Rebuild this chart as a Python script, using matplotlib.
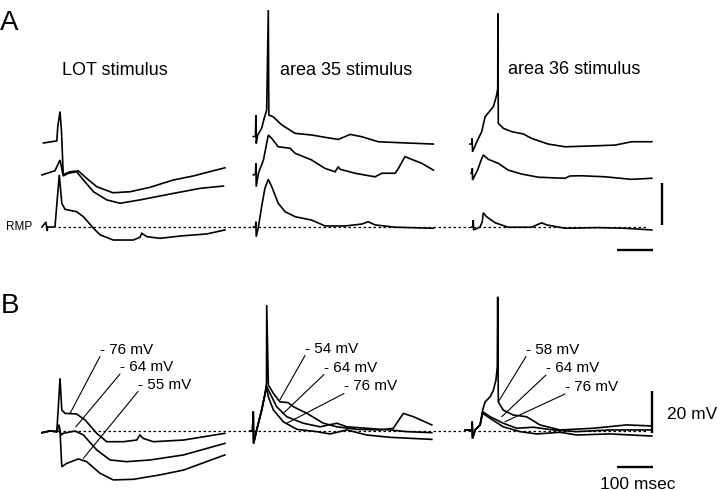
import matplotlib
matplotlib.use('Agg')
import matplotlib.pyplot as plt

plt.rcParams['font.family'] = ['Liberation Sans', 'DejaVu Sans']

# scale of the original figure: 100 ms = 36 px, 20 mV = 42 px
MS_PER_PX = 100 / 36
MV_PER_PX = 20 / 42
SCALE_MS = 100
SCALE_MV = 20

# ---- panel A: (time ms from sweep start, mV relative to RMP) ----
a_lot_top = [(4, 40), (41, 41), (44, 48), (50, 55), (54, 46), (59, 25), (78, 26.3),
             (101, 26.7), (124, 23.2), (152, 19.2), (197, 16.3), (245, 16.8),
             (300, 18.9), (365, 22.4), (420, 24.3), (508, 28.2)]
a_lot_mid = [(0, 24.8), (36, 26.8), (50, 31.9), (59, 24.3), (73, 25.6), (96, 26.3),
             (115, 22.4), (143, 16.8), (180, 12.9), (217, 11.3), (272, 12.9),
             (365, 16.0), (439, 18.4), (504, 19.5)]
a_lot_bot = [(0, 0), (11, 2.4), (14, -1.9), (16, 0), (36, 0), (48, 24.8), (55, 11.3),
             (64, 8.4), (96, 7.3), (115, 4.9), (143, -0.6), (161, -3.7), (198, -6.2),
             (254, -6.2), (272, -4.9), (277, -3.0), (291, -4.6), (328, -5.4),
             (383, -4.3), (458, -3.3), (508, -1.4)]

a_35_top = [(1, 43.0), (7, 43.3), (8, 53.3), (9, 39.8), (13, 43.8), (24, 47.0),
            (31, 51.7), (38, 55.7), (42.5, 103.3), (44, 53.3), (56, 52.5), (80, 48.6),
            (117, 44.6), (163, 43.8), (200, 42.7), (237, 41.7), (270, 44.1),
            (302, 43.0), (348, 40.6), (413, 40.1), (501, 39.5)]
a_35_mid = [(1, 24.8), (7, 25.2), (8, 30.3), (9, 19.2), (15, 25.6), (29, 31.9),
            (42.5, 43.8), (52, 42.2), (70, 38.2), (103, 37.5), (117, 35.1),
            (163, 31.9), (200, 27.9), (228, 26.3), (237, 28.7), (242, 27.5),
            (283, 25.6), (339, 23.9), (358, 25.6), (395, 25.6), (404, 27.9),
            (422, 33.5), (441, 32.2), (469, 30.3), (501, 27.1)]
a_35_bot = [(1, 0), (7, 0), (8, 2.5), (9, -4.6), (15, 0), (24, 9.7), (33, 18.4),
            (42.5, 22.7), (52, 19.2), (70, 11.3), (89, 7.3), (117, 4.9), (163, 3.3),
            (200, 0.5), (256, 0.5), (302, 1.4), (320, 2.5), (339, 1.0), (395, -0.1),
            (501, -0.6)]

a_36_top = [(0, 39.5), (5, 39.5), (6, 42.2), (7, 35.8), (19, 40.6), (32.5, 45.4),
            (42, 52.5), (51, 54.4), (65, 57.3), (74, 62.8), (77, 66.0), (77.5, 101.7),
            (78.6, 49.4), (92.5, 47.0), (116, 45.4), (148, 44.3), (171, 42.2),
            (217, 39.5), (264, 38.2), (338, 38.6), (403, 39.0), (449, 40.6),
            (505, 40.6)]
a_36_mid = [(3, 25.6), (5.6, 26.2), (6.4, 27.9), (7.2, 22.4), (21, 27.1), (31, 31.9),
            (37, 34.3), (51, 32.2), (79, 30.3), (106, 27.1), (144, 25.2), (190, 23.7),
            (264, 23.2), (278, 24.3), (310, 24.4), (375, 23.9), (449, 22.7),
            (505, 23.2)]
a_36_bot = [(5, 0), (8, 0), (9, 3.3), (10, -1.4), (28, 0), (34, 2.5), (37, 6.8),
            (46, 4.9), (70, 2.0), (106, -0.1), (171, -0.1), (199, 2.0), (213, 1.0),
            (264, -0.6), (356, -0.3), (431, -0.6), (505, -1.4)]

# ---- panel B: same cells held at three potentials ----
b_lot_76 = [(0, -0.8), (22, 0), (41, -0.3), (44, 7.6), (50, 25.1), (55, 10.0),
            (64, 8.4), (96, 8.1), (120, 5.2), (152, -1.1), (180, -5.1), (226, -5.1),
            (263, -4.3), (272, -1.9), (281, -3.5), (309, -5.1), (393, -4.3),
            (508, -1.1)]
b_lot_64 = [(0, -0.8), (22, 0), (41, -0.3), (47, 3), (53, -2), (59, -1.1), (92, 0),
            (115, -1.9), (152, -9.0), (189, -13.8), (235, -14.6), (300, -13.8),
            (393, -11.4), (508, -5.9)]
b_lot_55 = [(0, -0.8), (22, 0), (41, -0.3), (50, 0), (55, -17.0), (69, -15.4),
            (101, -13.3), (124, -14.6), (161, -20.1), (198, -23.3), (254, -23.0),
            (328, -20.9), (393, -18.6), (508, -11.4)]

b_35_54 = [(0, 0), (7, 0), (9, 9.2), (10, -5.9), (19, 0.8), (32.5, 10.0), (42, 17.9),
           (45.8, 22.7), (46.4, 60.0), (51, 21.9), (65, 17.9), (83, 13.9), (106, 13.5),
           (120, 11.6), (158, 8.4), (204, 3.7), (241, 2.0), (296, 0.8), (361, 0.5),
           (398, 1.3), (426, 8.4), (454, 6.8), (505, 2.9)]
b_35_64 = [(0, 0), (7, 0), (9, 9.2), (10, -5.9), (19, 0.8), (32.5, 10.0), (42, 17.9),
           (46.4, 21.4), (51, 19.5), (74, 11.6), (102, 6.8), (148, 3.7), (195, 2.0),
           (241, 3.7), (269, 2.0), (324, 1.3), (389, 0.5), (435, -0.3), (505, -0.8)]
b_35_76 = [(0, 0), (7, 0), (9, 9.2), (10, -5.9), (19, 0.8), (32.5, 10.0), (42, 17.9),
           (46.4, 20.5), (51, 16.3), (65, 10.0), (92.5, 4.4), (130, 0.8), (185, -0.3),
           (222, -1.4), (269, 0.5), (324, -1.9), (389, -3.0), (505, -4.0)]

b_36_58 = [(0, 0.5), (19, 0.5), (20, 4.4), (21, -3.5), (28, 0.5), (42, 2.9), (49, 10.0),
           (56, 13.9), (70, 16.3), (79, 19.5), (86, 24.3), (89.7, 30.6), (90.8, 63.9),
           (92.5, 13.9), (106, 10.0), (134, 7.6), (171, 6.8), (208, 2.9), (264, 0.5),
           (356, 1.3), (449, 2.9), (519, 2.4)]
b_36_64 = [(0, 0.5), (19, 0.5), (20, 4.4), (21, -3.5), (28, 0.5), (42, 2.9), (49, 9.2),
           (70, 6.8), (106, 3.7), (144, 1.3), (190, 1.8), (245, 0.5), (310, -0.3),
           (403, 0.5), (519, 0.5)]
b_36_76 = [(0, 0.5), (19, 0.5), (20, 4.4), (21, -3.5), (28, 0.5), (42, 2.9), (49, 8.4),
           (70, 6.0), (106, 2.0), (153, -0.3), (199, -1.4), (264, -0.6), (310, -1.9),
           (403, -1.4), (519, -2.4)]

titles = ['LOT stimulus', 'area 35 stimulus', 'area 36 stimulus']
b_lot_labels = ['- 76 mV', '- 64 mV', '- 55 mV']
b_35_labels = ['- 54 mV', '- 64 mV', '- 76 mV']
b_36_labels = ['- 58 mV', '- 64 mV', '- 76 mV']
# where each leader line meets its trace (ms, mV re RMP)
b_lot_targets = [(78, 8.4), (94, 2.0), (115, -13.0)]
b_35_targets = [(83, 14.8), (92.5, 8.4), (102, 3.7)]
b_36_targets = [(92.5, 13.9), (102, 6.8), (111, 4.4)]

# ---- layout (pixel positions in the 720x490 original) ----
W, H = 720, 490
RMP_A, RMP_B = 227, 431
A_X0 = [42, 253, 470]
B_X0 = [42, 250, 465]
TITLE_POS = [(62, 75), (280, 75), (508, 74)]
B_LABEL_POS = [[(100, 356.5), (120, 374), (138, 391.5)],
               [(305, 355.5), (324, 374.5), (344, 393.5)],
               [(526, 356.5), (546, 375), (565, 394)]]


def fx(px):
    return px / W


def fy(py):
    return 1 - py / H


def place(trace, x0, y0):
    t = [x0 * MS_PER_PX + p[0] for p in trace]
    v = [-y0 * MV_PER_PX + p[1] for p in trace]
    return t, v


fig = plt.figure(figsize=(7.2, 4.9), dpi=100)
ax = fig.add_axes([0, 0, 1, 1])
ax.set_xlim(0, W * MS_PER_PX)
ax.set_ylim(-H * MV_PER_PX, 0)
ax.axis('off')

trace_kw = dict(color='black', lw=1.2, solid_joinstyle='miter')

panels_a = [[a_lot_top, a_lot_mid, a_lot_bot],
            [a_35_top, a_35_mid, a_35_bot],
            [a_36_top, a_36_mid, a_36_bot]]
for x0, traces in zip(A_X0, panels_a):
    for tr in traces:
        ax.plot(*place(tr, x0, RMP_A), **trace_kw)

panels_b = [[b_lot_76, b_lot_64, b_lot_55],
            [b_35_54, b_35_64, b_35_76],
            [b_36_58, b_36_64, b_36_76]]
for x0, traces in zip(B_X0, panels_b):
    for tr in traces:
        ax.plot(*place(tr, x0, RMP_B), **trace_kw)

# resting membrane potential reference lines
dash_kw = dict(color='black', lw=0.9, linestyle=(0, (2.0, 2.0)))
ax.plot([58 * MS_PER_PX, 648 * MS_PER_PX], [-RMP_A * MV_PER_PX] * 2, **dash_kw)
ax.plot([63 * MS_PER_PX, 647 * MS_PER_PX], [-RMP_B * MV_PER_PX] * 2, **dash_kw)

# leader lines + holding potential labels
all_labels = [b_lot_labels, b_35_labels, b_36_labels]
all_targets = [b_lot_targets, b_35_targets, b_36_targets]
for x0, labels, targets, poss in zip(B_X0, all_labels, all_targets, B_LABEL_POS):
    for lab, (t, v), (lx, ly) in zip(labels, targets, poss):
        ax.annotate(lab, xy=(x0 * MS_PER_PX + t, -RMP_B * MV_PER_PX + v),
                    xytext=(fx(lx), fy(ly)), textcoords='figure fraction',
                    ha='left', va='bottom', fontsize=11,
                    arrowprops=dict(arrowstyle='-', lw=0.8, color='black',
                                    shrinkA=0, shrinkB=0, relpos=(0, 0),
                                    patchA=None))

# scale bars
bar_kw = dict(color='black', lw=1.7, solid_capstyle='butt')
ax.plot([661.7 * MS_PER_PX] * 2, [-225 * MV_PER_PX, -225 * MV_PER_PX + SCALE_MV], **bar_kw)
ax.plot([617 * MS_PER_PX, 617 * MS_PER_PX + SCALE_MS], [-250 * MV_PER_PX] * 2, **bar_kw)
ax.plot([651.7 * MS_PER_PX] * 2, [-433 * MV_PER_PX, -433 * MV_PER_PX + SCALE_MV], **bar_kw)
ax.plot([616.7 * MS_PER_PX, 616.7 * MS_PER_PX + SCALE_MS], [-466.7 * MV_PER_PX] * 2, **bar_kw)
fig.text(fx(667), fy(418.5), f'{SCALE_MV} mV', fontsize=12.5, ha='left', va='baseline')
fig.text(fx(638), fy(488.5), f'{SCALE_MS} msec', fontsize=12.5, ha='center', va='baseline')

# titles and panel letters
for title, (tx, ty) in zip(titles, TITLE_POS):
    fig.text(fx(tx), fy(ty), title, fontsize=13, ha='left', va='baseline')
fig.text(fx(6), fy(RMP_A), 'RMP', fontsize=8.5, ha='left', va='center')
fig.text(fx(0), fy(30), 'A', fontsize=20, ha='left', va='baseline')
fig.text(fx(1), fy(313), 'B', fontsize=20, ha='left', va='baseline')

fig.savefig('out.png', dpi=100, facecolor='white')
